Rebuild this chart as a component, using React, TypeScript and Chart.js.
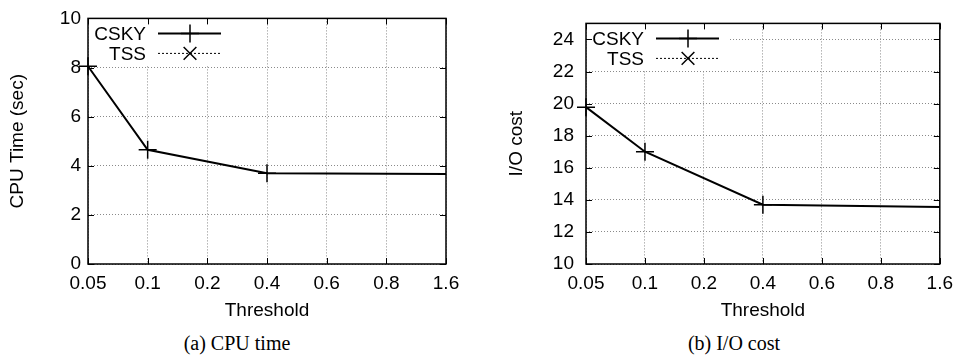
import React, { useEffect, useRef } from "react";
import { Chart, registerables } from "chart.js";
Chart.register(...registerables);

// ---- data ----
const THRESHOLDS = ["0.05", "0.1", "0.2", "0.4", "0.6", "0.8", "1.6"];
const CSKY_AT = ["0.05", "0.1", "0.4", "1.6"];
const CPU_CSKY = [8.05, 4.65, 3.7, 3.66];
const CPU_TSS: number[] = [];
const IO_CSKY = [19.78, 17.0, 13.7, 13.55];
const IO_TSS: number[] = [];
const CPU_TICKS = [0, 2, 4, 6, 8, 10];
const IO_TICKS = [10, 12, 14, 16, 18, 20, 22, 24];
const SERIES = ["CSKY", "TSS"];

const FONT = { family: "'Liberation Sans', Arial, sans-serif", size: 19 };
const CANVAS_H = 330;

function toPoints(vals: number[]) {
  return vals.map((v, i) => ({ x: THRESHOLDS.indexOf(CSKY_AT[i]), y: v }));
}

function drawMarker(ctx: CanvasRenderingContext2D, style: string, x: number, y: number, r: number) {
  ctx.beginPath();
  if (style === "cross") {
    ctx.moveTo(x - r, y);
    ctx.lineTo(x + r, y);
    ctx.moveTo(x, y - r);
    ctx.lineTo(x, y + r);
  } else {
    const d = r * Math.SQRT1_2;
    ctx.moveTo(x - d, y - d);
    ctx.lineTo(x + d, y + d);
    ctx.moveTo(x - d, y + d);
    ctx.lineTo(x + d, y - d);
  }
  ctx.stroke();
}

const framePlugin = {
  id: "gnuFrame",
  beforeDatasetsDraw(chart: any) {
    const { ctx, chartArea: a } = chart;
    ctx.save();
    ctx.fillStyle = "#fff";
    ctx.fillRect(a.left + 1, a.top + 1, 143, 46);
    ctx.restore();
  },
  afterDatasetsDraw(chart: any) {
    const { ctx, chartArea: a, scales } = chart;
    ctx.save();
    // inward ticks
    ctx.strokeStyle = "#000";
    ctx.lineWidth = 1;
    const tl = 6;
    ctx.beginPath();
    scales.x.ticks.forEach((t: any) => {
      const px = Math.round(scales.x.getPixelForValue(t.value)) + 0.5;
      ctx.moveTo(px, a.bottom);
      ctx.lineTo(px, a.bottom - tl);
      ctx.moveTo(px, a.top);
      ctx.lineTo(px, a.top + tl);
    });
    scales.y.ticks.forEach((t: any) => {
      const py = Math.round(scales.y.getPixelForValue(t.value)) + 0.5;
      ctx.moveTo(a.left, py);
      ctx.lineTo(a.left + tl, py);
      ctx.moveTo(a.right, py);
      ctx.lineTo(a.right - tl, py);
    });
    ctx.stroke();
    // frame
    ctx.lineWidth = 1.5;
    ctx.strokeRect(a.left, a.top, a.right - a.left, a.bottom - a.top);
    // legend
    ctx.font = `${FONT.size}px ${FONT.family}`;
    ctx.fillStyle = "#000";
    ctx.textAlign = "right";
    ctx.textBaseline = "middle";
    chart.data.datasets.forEach((ds: any, i: number) => {
      const y = a.top + 15 + i * 20;
      ctx.fillText(ds.label, a.left + 58, y + 1);
      ctx.save();
      ctx.lineWidth = ds.borderWidth;
      ctx.setLineDash(ds.borderDash || []);
      ctx.beginPath();
      ctx.moveTo(a.left + 70, y);
      ctx.lineTo(a.left + 133, y);
      ctx.stroke();
      ctx.setLineDash([]);
      ctx.lineWidth = 1.5;
      drawMarker(ctx, ds.pointStyle, a.left + 102, y, 9);
      ctx.restore();
    });
    ctx.restore();
  },
};

type PanelProps = {
  left: number;
  width: number;
  yWidth: number;
  rightPad: number;
  yTitlePad: number;
  yTickPad: number;
  yLabel: string;
  yMin: number;
  yMax: number;
  yTicks: number[];
  csky: number[];
  tss: number[];
};

function Panel(p: PanelProps) {
  const ref = useRef<HTMLCanvasElement | null>(null);
  useEffect(() => {
    if (!ref.current) return;
    const n = p.csky.length;
    const chart = new Chart(ref.current, {
      type: "line",
      data: {
        datasets: [
          {
            label: SERIES[0],
            data: toPoints(p.csky),
            borderColor: "#000",
            borderWidth: 2,
            pointStyle: "cross",
            pointRadius: (c: any) => (c.dataIndex === n - 1 ? 0 : 9),
            pointBorderWidth: 1.5,
            pointBorderColor: "#000",
            pointBackgroundColor: "#000",
            fill: false,
            tension: 0,
            clip: false,
          } as any,
          {
            label: SERIES[1],
            data: toPoints(p.tss),
            borderColor: "#000",
            borderWidth: 1,
            borderDash: [2, 2],
            pointStyle: "crossRot",
            pointRadius: 9,
            pointBorderWidth: 1.5,
            pointBorderColor: "#000",
            fill: false,
            tension: 0,
            clip: false,
          } as any,
        ],
      },
      options: {
        animation: false,
        responsive: false,
        maintainAspectRatio: false,
        layout: { padding: { top: 10, right: p.rightPad, left: 0, bottom: 0 } },
        plugins: { legend: { display: false }, tooltip: { enabled: false } },
        scales: {
          x: {
            type: "linear",
            min: 0,
            max: THRESHOLDS.length - 1,
            afterBuildTicks: (s: any) => {
              s.ticks = THRESHOLDS.map((_, i) => ({ value: i }));
            },
            afterFit: (s: any) => {
              s.height = 66;
            },
            ticks: {
              callback: (v: any) => THRESHOLDS[v],
              font: FONT,
              color: "#000",
              padding: 8,
              maxRotation: 0,
              autoSkip: false,
            },
            grid: { color: "#8a8a8a", lineWidth: 1, drawTicks: false },
            border: { display: false, dash: [1, 2] },
            title: {
              display: true,
              text: "Threshold",
              font: FONT,
              color: "#000",
              padding: { top: 0, bottom: 8 },
            },
          },
          y: {
            type: "linear",
            min: p.yMin,
            max: p.yMax,
            afterBuildTicks: (s: any) => {
              s.ticks = p.yTicks.map((v) => ({ value: v }));
            },
            afterFit: (s: any) => {
              s.width = p.yWidth;
            },
            ticks: { font: FONT, color: "#000", padding: p.yTickPad },
            grid: { color: "#8a8a8a", lineWidth: 1, drawTicks: false },
            border: { display: false, dash: [1, 2] },
            title: {
              display: true,
              text: p.yLabel,
              font: FONT,
              color: "#000",
              padding: { top: p.yTitlePad, bottom: 0 },
            },
          },
        },
      } as any,
      plugins: [framePlugin],
    });
    return () => chart.destroy();
  }, []);
  return (
    <canvas
      ref={ref}
      width={p.width}
      height={CANVAS_H}
      style={{ position: "absolute", left: p.left, top: 0, width: p.width, height: CANVAS_H }}
    />
  );
}

const captionStyle = (center: number): React.CSSProperties => ({
  position: "absolute",
  left: center - 100,
  width: 200,
  top: 331,
  textAlign: "center",
  fontFamily: "'Liberation Serif', 'Times New Roman', serif",
  fontSize: 20,
  lineHeight: "24px",
  color: "#000",
  whiteSpace: "nowrap",
});

export default function App() {
  return (
    <div style={{ position: "fixed", left: 0, top: 0, width: 961, height: 364, background: "#fff", overflow: "hidden" }}>
      <Panel
        left={0}
        width={480}
        yWidth={88}
        rightPad={34}
        yTitlePad={6}
        yTickPad={7}
        yLabel="CPU Time (sec)"
        yMin={0}
        yMax={10}
        yTicks={CPU_TICKS}
        csky={CPU_CSKY}
        tss={CPU_TSS}
      />
      <Panel
        left={480}
        width={481}
        yWidth={106}
        rightPad={18}
        yTitlePad={25}
        yTickPad={12}
        yLabel="I/O cost"
        yMin={10}
        yMax={25}
        yTicks={IO_TICKS}
        csky={IO_CSKY}
        tss={IO_TSS}
      />
      <div style={captionStyle(237)}>(a) CPU time</div>
      <div style={captionStyle(734)}>(b) I/O cost</div>
    </div>
  );
}
